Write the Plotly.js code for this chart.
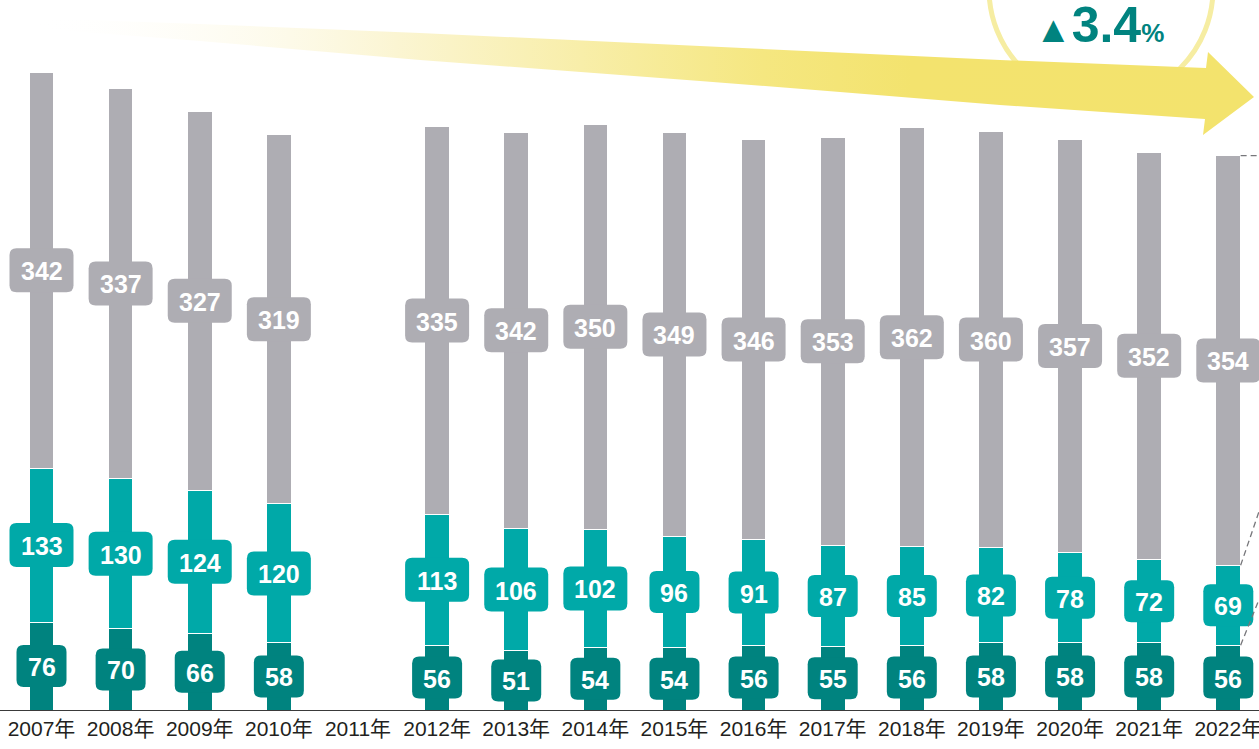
<!DOCTYPE html>
<html>
<head>
<meta charset="utf-8">
<script src="https://cdn.plot.ly/plotly-3.0.1.min.js"></script>
<style>
  html, body { margin: 0; padding: 0; background: #ffffff; }
  #chart { width: 1259px; height: 749px; }
</style>
</head>
<body>
<div id="chart"></div>
<script>
// ---- data ----
const categories = ['2007年','2008年','2009年','2010年','2011年','2012年','2013年','2014年',
                    '2015年','2016年','2017年','2018年','2019年','2020年','2021年','2022年'];
const darkValues = [76, 70, 66, 58, null, 56, 51, 54, 54, 56, 55, 56, 58, 58, 58, 56];
const tealValues = [133, 130, 124, 120, null, 113, 106, 102, 96, 91, 87, 85, 82, 78, 72, 69];
const grayValues = [342, 337, 327, 319, null, 335, 342, 350, 349, 346, 353, 362, 360, 357, 352, 354];
const changeLabel = '3.4';

// ---- styles ----
const COL_DARK = '#00837F';
const COL_TEAL = '#00A9A8';
const COL_GRAY = '#AEADB3';
const FONT = 'Liberation Sans, Arial, Noto Sans CJK SC, sans-serif';
const BAR_W = 0.312;

const idx = categories.map((c, i) => i);

function barTrace(vals, color) {
  return {
    type: 'bar', x: idx, y: vals, width: BAR_W,
    marker: { color: color, line: { color: '#ffffff', width: 1 } },
    hoverinfo: 'skip', showlegend: false
  };
}

const traces = [
  barTrace(darkValues, COL_DARK),
  barTrace(tealValues, COL_TEAL),
  barTrace(grayValues, COL_GRAY)
];

// decorative gradient arrow (page pixel coordinates on overlay axes)
const arrowX = [30, 200, 420, 700, 840, 1000, 1206, 1208, 1254, 1203, 1205, 1000, 840, 700, 420, 200, 30];
const arrowY = [18, 24, 33, 46, 53, 60, 68, 52, 97, 135, 119, 105, 92, 81, 60, 41, 28];
traces.push({
  type: 'scatter', x: arrowX, y: arrowY, xaxis: 'x2', yaxis: 'y2',
  mode: 'lines', fill: 'toself', line: { width: 0, color: 'rgba(0,0,0,0)' },
  fillgradient: {
    type: 'horizontal',
    colorscale: [[0, 'rgba(255,255,255,0)'], [0.3, 'rgba(251,245,210,1)'],
                 [0.6, 'rgba(245,231,128,1)'], [0.72, '#F3E36E'], [1, '#F3E36D']]
  },
  hoverinfo: 'skip', showlegend: false
});

function roundRect(w, h, r) {
  const a = w / 2, b = h / 2;
  return `M ${-a + r},${-b} H ${a - r} Q ${a},${-b} ${a},${-b + r} V ${b - r} Q ${a},${b} ${a - r},${b} ` +
         `H ${-a + r} Q ${-a},${b} ${-a},${b - r} V ${-b + r} Q ${-a},${-b} ${-a + r},${-b} Z`;
}

const shapes = [];
const annotations = [];

// yellow ring behind arrow
shapes.push({
  type: 'circle', xref: 'x2', yref: 'y2', x0: 989, x1: 1213, y0: -123, y1: 101,
  line: { color: '#F6EDA2', width: 5 }, fillcolor: 'rgba(255,255,255,0)', layer: 'below'
});

const series = [[darkValues, COL_DARK], [tealValues, COL_TEAL], [grayValues, COL_GRAY]];
idx.forEach(i => {
  let base = 0;
  series.forEach(([vals, color]) => {
    const v = vals[i];
    if (v == null) return;
    const mid = base + v / 2;
    const digits = String(v).length;
    const w = digits >= 3 ? 64 : 50;
    const h = digits >= 3 ? 44 : 42;
    shapes.push({
      type: 'path', xref: 'x', yref: 'y', xsizemode: 'pixel', ysizemode: 'pixel',
      xanchor: i, yanchor: mid, path: roundRect(w, h, 7),
      fillcolor: color, line: { width: 0 }, layer: 'above'
    });
    annotations.push({
      x: i, y: mid, xref: 'x', yref: 'y', text: String(v), showarrow: false,
      font: { family: FONT, size: 25, color: '#ffffff', weight: 'bold' },
      xanchor: 'center', yanchor: 'middle', yshift: -1
    });
    base += v;
  });
});

// dashed connectors at the right edge of the last bar
const last = idx.length - 1;
const edge = last + BAR_W / 2;
const lastTotal = darkValues[last] + tealValues[last] + grayValues[last];
const lastMid = darkValues[last] + tealValues[last];
const dashStyle = { color: '#77777B', width: 1.3, dash: '6px,4px' };
shapes.push({ type: 'line', xref: 'x', yref: 'y', x0: edge, y0: lastTotal, x1: edge + 0.35, y1: lastTotal, line: dashStyle });
shapes.push({ type: 'line', xref: 'x', yref: 'y', x0: edge, y0: lastMid, x1: edge + 0.23, y1: lastMid + 46, line: dashStyle });
shapes.push({ type: 'line', xref: 'x', yref: 'y', x0: edge, y0: darkValues[last], x1: edge + 0.23, y1: darkValues[last] + 39, line: dashStyle });

// change callout
annotations.push({
  xref: 'x2', yref: 'y2', x: 1099, y: 25, showarrow: false, xanchor: 'center', yanchor: 'middle',
  text: '<span style="font-size:37px">▲</span>' + changeLabel + '<span style="font-size:26px">%</span>',
  font: { family: FONT, size: 50, color: '#00837F', weight: 'bold' }
});

const layout = {
  width: 1259, height: 749,
  margin: { l: 0, r: 0, t: 0, b: 39, pad: 0 },
  paper_bgcolor: '#ffffff', plot_bgcolor: 'rgba(0,0,0,0)',
  barmode: 'stack', bargap: 0,
  showlegend: false,
  xaxis: {
    range: [-0.5245, 15.388], tickmode: 'array', tickvals: idx, ticktext: categories,
    showgrid: false, zeroline: false, showline: true, linecolor: '#3a3a3a', linewidth: 1.2,
    ticks: '', ticklabeloverflow: 'allow',
    tickfont: { family: FONT, size: 21, color: '#231F20' }, fixedrange: true
  },
  yaxis: {
    range: [0, 613.4], visible: false, showgrid: false, zeroline: false, fixedrange: true
  },
  xaxis2: { overlaying: 'x', anchor: 'y2', range: [0, 1259], visible: false, fixedrange: true },
  yaxis2: { overlaying: 'y', anchor: 'x2', range: [710, 0], visible: false, fixedrange: true },
  shapes: shapes,
  annotations: annotations,
  font: { family: FONT }
};

Plotly.newPlot('chart', traces, layout, { displayModeBar: false, staticPlot: true });
</script>
</body>
</html>
